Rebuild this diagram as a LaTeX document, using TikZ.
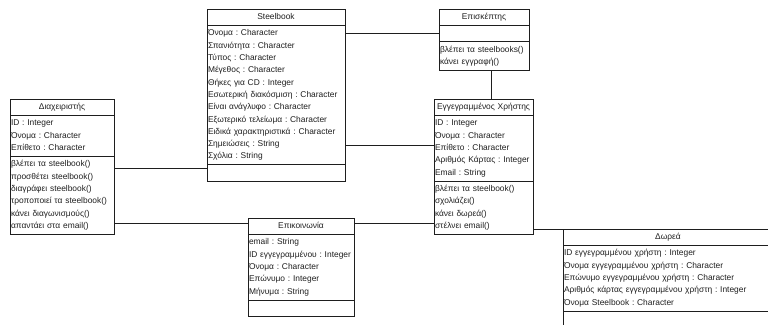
\documentclass[tikz,border=0pt]{standalone}
\usepackage{fontspec}
\setmainfont{Liberation Sans}
\usepackage{tikz}
\usetikzlibrary{positioning,calc}
\definecolor{umlink}{HTML}{1E1E1E}
\newcommand{\classfont}{\fontsize{8.4}{12.3}\selectfont\frenchspacing\hyphenpenalty=10000}

\begin{document}
\begin{tikzpicture}[
 x=1pt,y=-1pt,
 box/.style={draw=umlink,text=umlink,line width=0.6pt,font=\classfont,inner xsep=1pt,inner ysep=2pt,
  outer sep=0pt,text width=#1,execute at begin node=\strut,execute at end node=\strut},
 cname/.style={box=#1,align=center},
 cbody/.style={box=#1,align=left},
 link/.style={draw=umlink,line width=0.6pt}
]
\useasboundingbox (0,0) rectangle (768,324);
\clip (0,0) rectangle (768,324);

% Steelbook
\node[cname=136pt,anchor=north west] (steelbook) at (207,9) {Steelbook};
\node[cbody=136pt,below=0pt of steelbook] (steelbook-a)
 {Όνομα : Character\\Σπανιότητα : Character\\Τύπος : Character\\Μέγεθος : Character\\
  Θήκες για CD : Integer\\Εσωτερική διακόσμιση : Character\\Είναι ανάγλυφο : Character\\
  Εξωτερικό τελείωμα : Character\\Ειδικά χαρακτηριστικά : Character\\Σημειώσεις : String\\Σχόλια : String};
\node[cbody=136pt,below=0pt of steelbook-a] (steelbook-m) {};

% Επισκέπτης
\node[cname=88pt,anchor=north west] (visitor) at (439,9) {Επισκέπτης};
\node[cbody=88pt,below=0pt of visitor] (visitor-a) {};
\node[cbody=88pt,below=0pt of visitor-a] (visitor-m) {βλέπει τα steelbooks()\\κάνει εγγραφή()};

% Διαχειριστής
\node[cname=102pt,anchor=north west] (admin) at (10,99) {Διαχειριστής};
\node[cbody=102pt,below=0pt of admin] (admin-a) {ID : Integer\\Όνομα : Character\\Επίθετο : Character};
\node[cbody=102pt,below=0pt of admin-a] (admin-m)
 {βλέπει τα steelbook()\\προσθέτει steelbook()\\διαγράφει steelbook()\\τροποποιεί τα steelbook()\\
  κάνει διαγωνισμούς()\\απαντάει στα email()};

% Εγγεγραμμένος Χρήστης
\node[cname=97pt,anchor=north west] (member) at (434,99) {Εγγεγραμμένος Χρήστης};
\node[cbody=97pt,below=0pt of member] (member-a)
 {ID : Integer\\Όνομα : Character\\Επίθετο : Character\\Αριθμός Κάρτας : Integer\\Email : String};
\node[cbody=97pt,below=0pt of member-a] (member-m)
 {βλέπει τα steelbook()\\σχολιάζει()\\κάνει δωρεά()\\στέλνει email()};

% Επικοινωνία
\node[cname=104pt,anchor=north west] (contact) at (248,218) {Επικοινωνία};
\node[cbody=104pt,below=0pt of contact] (contact-a)
 {email : String\\ID εγγεγραμμένου : Integer\\Όνομα : Character\\Επώνυμο : Integer\\Μήνυμα : String};
\node[cbody=104pt,below=0pt of contact-a] (contact-m) {};

% Δωρεά
\node[cname=208pt,anchor=north west] (donation) at (563,229) {Δωρεά};
\node[cbody=208pt,below=0pt of donation] (donation-a)
 {ID εγγεγραμμένου χρήστη : Integer\\Όνομα εγγεγραμμένου χρήστη : Character\\
  Επώνυμο εγγεγραμμένου χρήστη : Character\\Αριθμός κάρτας εγγεγραμμένου χρήστη : Integer\\
  Όνομα Steelbook : Character};
\node[cbody=208pt,below=0pt of donation-a] (donation-m) {};

% associations
\coordinate (m1) at ([yshift=3pt]member-a.west);
\coordinate (s1) at ([yshift=4pt]steelbook-m.west);
\coordinate (c1) at ([yshift=3pt]contact.west);
\coordinate (c2) at ([yshift=3pt]contact.east);
\coordinate (v1) at ([xshift=7pt]visitor-m.south);
\draw[link] (visitor-a.west) -- (steelbook-a.east |- visitor-a.west);
\draw[link] (m1) -- (steelbook-a.east |- m1);
\draw[link] (s1) -- (admin-m.east |- s1);
\draw[link] (c1) -- (admin-m.east |- c1);
\draw[link] (c2) -- (member-m.west |- c2);
\draw[link] (v1) -- (v1 |- member.north);
\draw[link] (donation.north west) -- (member-m.east |- donation.north west);
\end{tikzpicture}
\end{document}
